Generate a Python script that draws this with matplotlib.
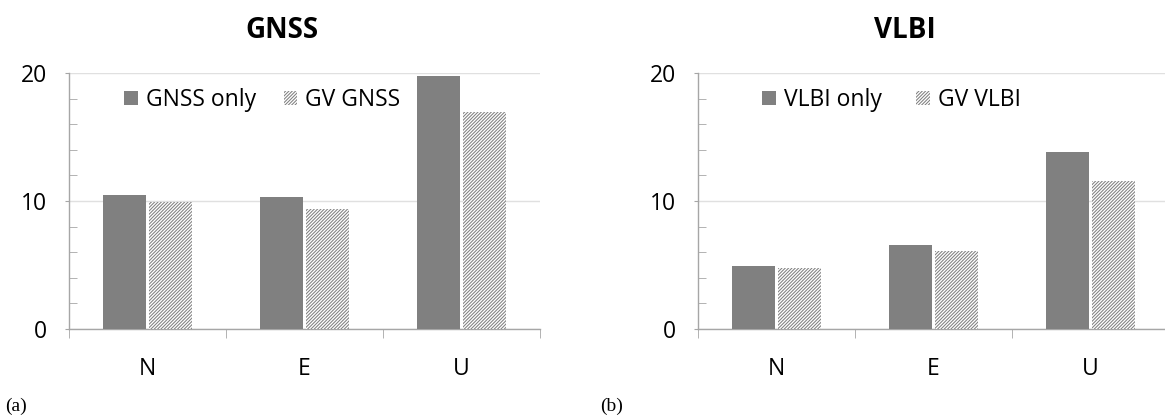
import numpy as np
import matplotlib.pyplot as plt

plt.rcParams['font.family'] = ['Open Sans', 'DejaVu Sans']
plt.rcParams['hatch.linewidth'] = 0.75

# Data
components = ["N", "E", "U"]
gnss_only = [10.45, 10.35, 19.75]
gv_gnss = [9.9, 9.35, 16.95]
vlbi_only = [4.95, 6.55, 13.85]
gv_vlbi = [4.8, 6.1, 11.6]

W, H = 1165, 417
fig = plt.figure(figsize=(W / 100, H / 100), dpi=100)

gray = '#808080'
axis_gray = '#a6a6a6'
hatch_gray = '#808080'


def px_axes(x0, x1, y_top, y_bot):
    return fig.add_axes([x0 / W, 1 - y_bot / H, (x1 - x0) / W, (y_bot - y_top) / H])


def draw_panel(ax, only, gv, labels, leg_x, colsp):
    x = np.arange(len(components))
    bw = 0.274
    off = 0.149
    ax.bar(x - off, only, bw, color=gray, linewidth=0, label=labels[0], zorder=3)
    ax.bar(x + off, gv, bw, color='white', edgecolor=hatch_gray, hatch='//////////',
           linewidth=0, label=labels[1], zorder=3)
    ax.set_xlim(-0.5, 2.5)
    ax.set_ylim(0, 20)

    for s in ['top', 'right']:
        ax.spines[s].set_visible(False)
    for s in ['left', 'bottom']:
        ax.spines[s].set_color(axis_gray)
        ax.spines[s].set_linewidth(1.0)

    ax.set_yticks([0, 10, 20])
    ax.set_yticks(np.arange(0, 21, 2), minor=True)
    ax.tick_params(axis='y', which='major', length=3, color=axis_gray, pad=13,
                   labelsize=16.5)
    ax.tick_params(axis='y', which='minor', direction='in', length=5.5, color=axis_gray)
    ax.yaxis.grid(True, which='major', color='#e0e0e0', linewidth=1.0, zorder=0)

    ax.set_xticks(x)
    ax.set_xticklabels(components)
    ax.set_xticks(np.arange(-0.5, 2.6, 1.0), minor=True)
    ax.tick_params(axis='x', which='major', length=0, pad=20, labelsize=16.5)
    ax.tick_params(axis='x', which='minor', length=6.5, color=axis_gray)

    ax.legend(loc='center left', bbox_to_anchor=(leg_x, 0.895), ncol=2,
              frameon=False, fontsize=16.5, borderpad=0, borderaxespad=0,
              handlelength=0.6, handleheight=0.6, handletextpad=0.35,
              columnspacing=colsp)


ax1 = px_axes(69, 540, 73, 329)
draw_panel(ax1, gnss_only, gv_gnss, ["GNSS only", "GV GNSS"], 0.117, 1.2)

ax2 = px_axes(698, 1169, 73, 329)
draw_panel(ax2, vlbi_only, gv_vlbi, ["VLBI only", "GV VLBI"], 0.136, 1.5)

fig.text(282 / W, 1 - 30 / H, "GNSS", ha='center', va='center',
         fontsize=20, fontweight='bold')
fig.text(905 / W, 1 - 30 / H, "VLBI", ha='center', va='center',
         fontsize=20, fontweight='bold')

fig.text(5 / W, 1 - 406 / H, "(a)", ha='left', va='center', fontsize=14,
         family='Liberation Serif')
fig.text(600 / W, 1 - 406 / H, "(b)", ha='left', va='center', fontsize=14,
         family='Liberation Serif')

fig.savefig('out.png', dpi=100)
